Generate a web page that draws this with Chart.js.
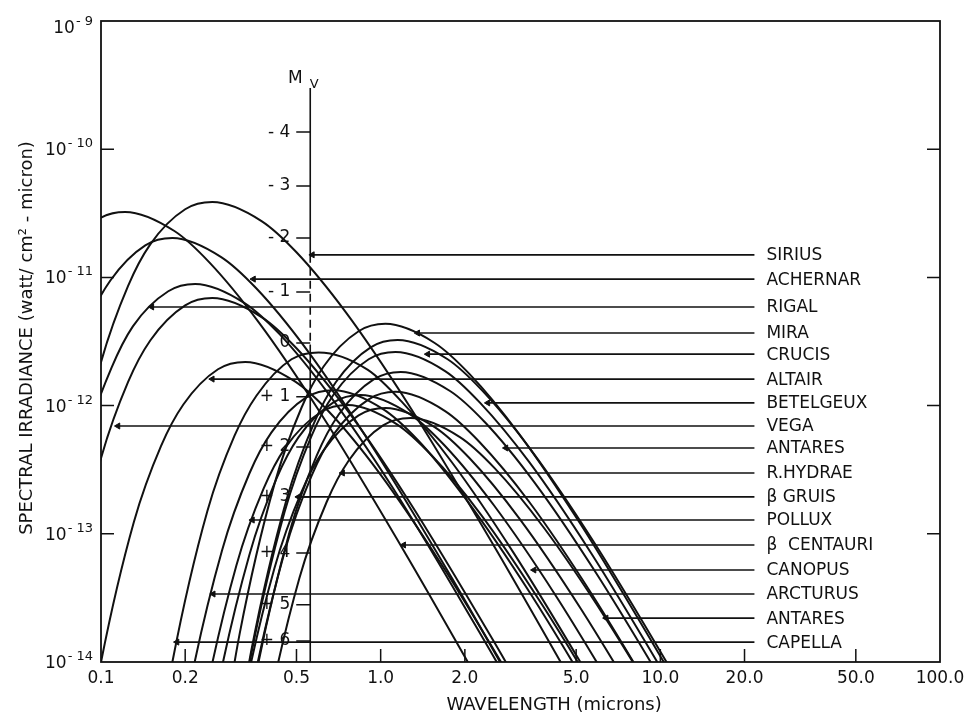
<!DOCTYPE html>
<html>
<head>
<meta charset="utf-8">
<script src="https://cdn.jsdelivr.net/npm/chart.js@4.4.1/dist/chart.umd.min.js"></script>
<style>
  html, body { margin: 0; padding: 0; background: #fff; }
  canvas { display: block; }
</style>
</head>
<body>
<canvas id="grafico" width="974" height="719"></canvas>
<script>
const tinta = '#111'
const fuente = '"DejaVu Sans", sans-serif'

// Ejes
const xTickValues = [0.1, 0.2, 0.5, 1, 2, 5, 10, 20, 50, 100]
const xTickLabels = ['0.1', '0.2', '0.5', '1.0', '2.0', '5.0', '10.0', '20.0', '50.0', '100.0']
const yTickValues = [1e-14, 1e-13, 1e-12, 1e-11, 1e-10, 1e-9]
const yTickExponents = [-14, -13, -12, -11, -10, -9]

// Escala de magnitud visual (M_V) sobre 0.5 micrones
const mvAxisWl = 0.56
const mvTop = 3.0e-10
const mvLabels = ['- 4', '- 3', '- 2', '- 1', '0', '+ 1', '+ 2', '+ 3', '+ 4', '+ 5', '+ 6']
const mvLevels = [1.36e-10, 5.16e-11, 2.03e-11, 7.69e-12, 3.08e-12, 1.17e-12, 4.75e-13, 1.94e-13, 7.08e-14, 2.79e-14, 1.46e-14]
const mvDashFrom = 1.5e-11
const mvDashTo = 3.0e-12

// Curvas (longitud de onda en micrones, irradiancia en watt/cm2-micron)
const siriusWl = [0.0625, 0.075, 0.1, 0.125, 0.15, 0.2, 0.25, 0.375, 0.5, 0.75, 1.25, 2.5, 5.0]
const siriusIrr = [1.34e-14, 1.47e-13, 2.18e-12, 8.59e-12, 1.81e-11, 3.40e-11, 3.87e-11, 2.75e-11, 1.57e-11, 5.36e-12, 1.04e-12, 8.57e-14, 6.14e-15]

const achernarWl = [0.0449, 0.0539, 0.0718, 0.0898, 0.108, 0.144, 0.180, 0.269, 0.359, 0.539, 0.898, 1.80, 3.59]
const achernarIrr = [7.03e-15, 7.71e-14, 1.14e-12, 4.50e-12, 9.46e-12, 1.78e-11, 2.03e-11, 1.44e-11, 8.22e-12, 2.81e-12, 5.46e-13, 4.49e-14, 3.21e-15]

const rigalWl = [0.0543, 0.0652, 0.0869, 0.109, 0.130, 0.174, 0.217, 0.326, 0.435, 0.652, 1.09, 2.17, 4.35]
const rigalIrr = [3.08e-15, 3.38e-14, 5.00e-13, 1.97e-12, 4.15e-12, 7.80e-12, 8.89e-12, 6.31e-12, 3.61e-12, 1.23e-12, 2.39e-13, 1.97e-14, 1.41e-15]

const miraWl = [0.261, 0.313, 0.417, 0.521, 0.625, 0.834, 1.04, 1.56, 2.08, 3.13, 5.21, 10.4, 20.8]
const miraIrr = [1.50e-15, 1.65e-14, 2.44e-13, 9.62e-13, 2.02e-12, 3.80e-12, 4.34e-12, 3.08e-12, 1.76e-12, 6.00e-13, 1.17e-13, 9.59e-15, 6.87e-16]

const crucisWl = [0.288, 0.345, 0.460, 0.576, 0.691, 0.921, 1.15, 1.73, 2.30, 3.45, 5.76, 11.5, 23.0]
const crucisIrr = [1.13e-15, 1.24e-14, 1.83e-13, 7.21e-13, 1.52e-12, 2.85e-12, 3.25e-12, 2.31e-12, 1.32e-12, 4.50e-13, 8.75e-14, 7.19e-15, 5.15e-16]

const altairWl = [0.082, 0.0984, 0.131, 0.164, 0.197, 0.262, 0.328, 0.492, 0.656, 0.984, 1.64, 3.28, 6.56]
const altairIrr = [7.59e-16, 8.32e-15, 1.23e-13, 4.85e-13, 1.02e-12, 1.92e-12, 2.19e-12, 1.55e-12, 8.87e-13, 3.03e-13, 5.89e-14, 4.84e-15, 3.47e-16]

const betelgeuxWl = [0.283, 0.340, 0.453, 0.566, 0.679, 0.906, 1.13, 1.70, 2.26, 3.40, 5.66, 11.3, 22.6]
const betelgeuxIrr = [9.08e-16, 9.95e-15, 1.47e-13, 5.81e-13, 1.22e-12, 2.30e-12, 2.62e-12, 1.86e-12, 1.06e-12, 3.62e-13, 7.05e-14, 5.79e-15, 4.15e-16]

const vegaWl = [0.0625, 0.075, 0.1, 0.125, 0.15, 0.2, 0.25, 0.375, 0.5, 0.75, 1.25, 2.5, 5.0]
const vegaIrr = [2.39e-15, 2.62e-14, 3.88e-13, 1.53e-12, 3.22e-12, 6.05e-12, 6.90e-12, 4.90e-12, 2.80e-12, 9.55e-13, 1.86e-13, 1.53e-14, 1.09e-15]

const antaresWl = [0.295, 0.354, 0.472, 0.590, 0.708, 0.944, 1.18, 1.77, 2.36, 3.54, 5.90, 11.8, 23.6]
const antaresIrr = [6.34e-16, 6.95e-15, 1.03e-13, 4.06e-13, 8.53e-13, 1.60e-12, 1.83e-12, 1.30e-12, 7.41e-13, 2.53e-13, 4.92e-14, 4.05e-15, 2.90e-16]

const rHydraeWl = [0.320, 0.384, 0.512, 0.641, 0.769, 1.02, 1.28, 1.92, 2.56, 3.84, 6.41, 12.8, 25.6]
const rHydraeIrr = [2.77e-16, 3.04e-15, 4.50e-14, 1.77e-13, 3.73e-13, 7.01e-13, 8.00e-13, 5.68e-13, 3.24e-13, 1.11e-13, 2.15e-14, 1.77e-15, 1.27e-16]

const betaGruisWl = [0.261, 0.313, 0.417, 0.521, 0.625, 0.834, 1.04, 1.56, 2.08, 3.13, 5.21, 10.4, 20.8]
const betaGruisIrr = [3.32e-16, 3.64e-15, 5.38e-14, 2.12e-13, 4.47e-13, 8.39e-13, 9.57e-13, 6.79e-13, 3.88e-13, 1.32e-13, 2.58e-14, 2.12e-15, 1.52e-16]

const polluxWl = [0.191, 0.229, 0.305, 0.381, 0.457, 0.610, 0.762, 1.14, 1.52, 2.29, 3.81, 7.62, 15.2]
const polluxIrr = [3.51e-16, 3.85e-15, 5.69e-14, 2.24e-13, 4.72e-13, 8.87e-13, 1.01e-12, 7.18e-13, 4.10e-13, 1.40e-13, 2.72e-14, 2.24e-15, 1.60e-16]

const betaCentauriWl = [0.0305, 0.0366, 0.0488, 0.061, 0.0732, 0.0976, 0.122, 0.183, 0.244, 0.366, 0.61, 1.22, 2.44]
const betaCentauriIrr = [1.12e-14, 1.23e-13, 1.82e-12, 7.18e-12, 1.51e-11, 2.84e-11, 3.24e-11, 2.30e-11, 1.31e-11, 4.48e-12, 8.71e-13, 7.16e-14, 5.13e-15]

const canopusWl = [0.212, 0.254, 0.339, 0.424, 0.508, 0.678, 0.847, 1.27, 1.69, 2.54, 4.24, 8.47, 16.9]
const canopusIrr = [4.20e-16, 4.60e-15, 6.81e-14, 2.69e-13, 5.65e-13, 1.06e-12, 1.21e-12, 8.59e-13, 4.91e-13, 1.67e-13, 3.26e-14, 2.68e-15, 1.92e-16]

const arcturusWl = [0.170, 0.203, 0.271, 0.339, 0.407, 0.542, 0.678, 1.02, 1.36, 2.03, 3.39, 6.78, 13.6]
const arcturusIrr = [4.59e-16, 5.04e-15, 7.45e-14, 2.94e-13, 6.18e-13, 1.16e-12, 1.32e-12, 9.40e-13, 5.37e-13, 1.83e-13, 3.56e-14, 2.93e-15, 2.10e-16]

const antaresBWl = [0.283, 0.340, 0.453, 0.566, 0.679, 0.906, 1.13, 1.70, 2.26, 3.40, 5.66, 11.3, 22.6]
const antaresBIrr = [4.43e-16, 4.85e-15, 7.18e-14, 2.83e-13, 5.96e-13, 1.12e-12, 1.28e-12, 9.06e-13, 5.18e-13, 1.77e-13, 3.44e-14, 2.82e-15, 2.02e-16]

const capellaWl = [0.150, 0.180, 0.240, 0.300, 0.360, 0.480, 0.600, 0.900, 1.20, 1.80, 3.00, 6.00, 12.0]
const capellaIrr = [9.1e-16, 1.0e-14, 1.5e-13, 5.8e-13, 1.2e-12, 2.3e-12, 2.6e-12, 1.9e-12, 1.05e-12, 3.6e-13, 7.0e-14, 5.8e-15, 4.2e-16]

// Etiquetas de la derecha, con la punta de la flecha sobre cada curva
const starNames = ['SIRIUS', 'ACHERNAR', 'RIGAL', 'MIRA', 'CRUCIS', 'ALTAIR', 'BETELGEUX', 'VEGA', 'ANTARES',
  'R.HYDRAE', 'β GRUIS', 'POLLUX', 'β  CENTAURI', 'CANOPUS', 'ARCTURUS', 'ANTARES', 'CAPELLA']
const arrowTipWl = [0.57, 0.351, 0.152, 1.357, 1.474, 0.250, 2.418, 0.115, 2.805, 0.731, 0.508, 0.348, 1.209, 3.535, 0.252, 6.40, 0.187]
const labelIrr = [1.50e-11, 9.7e-12, 5.88e-12, 3.68e-12, 2.52e-12, 1.61e-12, 1.05e-12, 6.93e-13, 4.67e-13,
  2.98e-13, 1.94e-13, 1.28e-13, 8.18e-14, 5.22e-14, 3.39e-14, 2.20e-14, 1.43e-14]
const labelEndWl = 21.7

const starCurves = [
  [siriusWl, siriusIrr], [achernarWl, achernarIrr], [rigalWl, rigalIrr], [miraWl, miraIrr],
  [crucisWl, crucisIrr], [altairWl, altairIrr], [betelgeuxWl, betelgeuxIrr], [vegaWl, vegaIrr],
  [antaresWl, antaresIrr], [rHydraeWl, rHydraeIrr], [betaGruisWl, betaGruisIrr], [polluxWl, polluxIrr],
  [betaCentauriWl, betaCentauriIrr], [canopusWl, canopusIrr], [arcturusWl, arcturusIrr],
  [antaresBWl, antaresBIrr], [capellaWl, capellaIrr]
]

const datasets = []

// Curvas de cada estrella
starCurves.forEach(([wl, irr]) => {
  datasets.push({
    data: wl.map((x, i) => ({ x: x, y: irr[i] })),
    borderColor: tinta,
    borderWidth: 2,
    pointRadius: 0,
    cubicInterpolationMode: 'monotone',
    fill: false
  })
})

// Lineas guia con flecha hacia la curva
starNames.forEach((name, i) => {
  datasets.push({
    data: [{ x: arrowTipWl[i], y: labelIrr[i] }, { x: labelEndWl, y: labelIrr[i] }],
    borderColor: tinta,
    borderWidth: 1.6,
    pointRadius: [3.5, 0],
    pointStyle: 'triangle',
    rotation: -90,
    pointBackgroundColor: tinta,
    pointBorderColor: tinta,
    pointBorderWidth: 1,
    fill: false
  })
})

// Eje M_V: tramo solido, tramo punteado y tramo solido
datasets.push({
  data: [{ x: mvAxisWl, y: mvTop }, { x: mvAxisWl, y: mvDashFrom }],
  borderColor: tinta, borderWidth: 1.6, pointRadius: 0
})
datasets.push({
  data: [{ x: mvAxisWl, y: mvDashFrom }, { x: mvAxisWl, y: mvDashTo }],
  borderColor: tinta, borderWidth: 1.6, pointRadius: 0, borderDash: [8, 5]
})
datasets.push({
  data: [{ x: mvAxisWl, y: mvDashTo }, { x: mvAxisWl, y: 1e-14 }],
  borderColor: tinta, borderWidth: 1.6, pointRadius: 0
})

// Dibujo del marco, marcas, etiquetas y titulos
const dibujoExtra = {
  id: 'dibujoExtra',
  beforeDraw(chart) {
    const ctx = chart.ctx
    ctx.save()
    ctx.fillStyle = '#fff'
    ctx.fillRect(0, 0, chart.width, chart.height)
    ctx.restore()
  },
  afterDatasetsDraw(chart) {
    const ctx = chart.ctx
    const area = chart.chartArea
    const xs = chart.scales.x
    const ys = chart.scales.y
    ctx.save()
    ctx.strokeStyle = tinta
    ctx.fillStyle = tinta
    ctx.lineWidth = 1.8
    ctx.strokeRect(area.left, area.top, area.right - area.left, area.bottom - area.top)

    ctx.lineWidth = 1.5
    ctx.beginPath()
    xTickValues.forEach(v => {
      const px = xs.getPixelForValue(v)
      if (px > area.left + 2 && px < area.right - 2) {
        ctx.moveTo(px, area.bottom)
        ctx.lineTo(px, area.bottom - 13)
      }
    })
    yTickValues.forEach(v => {
      const py = ys.getPixelForValue(v)
      if (py > area.top + 2 && py < area.bottom - 2) {
        ctx.moveTo(area.left, py)
        ctx.lineTo(area.left + 13, py)
        ctx.moveTo(area.right, py)
        ctx.lineTo(area.right - 13, py)
      }
    })
    ctx.stroke()

    // Etiquetas del eje y con exponente
    ctx.textAlign = 'right'
    ctx.textBaseline = 'alphabetic'
    yTickValues.forEach((v, i) => {
      const py = ys.getPixelForValue(v)
      const base = Math.max(py + 6, area.top + 12)
      const exp = '- ' + Math.abs(yTickExponents[i])
      const right = area.left - 8
      ctx.font = '13px ' + fuente
      ctx.fillText(exp, right, base - 8)
      const w = ctx.measureText(exp).width
      ctx.font = '17px ' + fuente
      ctx.fillText('10', right - w - 1, base)
    })

    // Escala M_V
    const mx = xs.getPixelForValue(mvAxisWl)
    ctx.beginPath()
    mvLevels.forEach(v => {
      const py = ys.getPixelForValue(v)
      ctx.moveTo(mx - 14, py)
      ctx.lineTo(mx, py)
    })
    ctx.stroke()
    ctx.font = '17px ' + fuente
    ctx.textBaseline = 'middle'
    ctx.textAlign = 'right'
    mvLabels.forEach((t, i) => {
      const py = ys.getPixelForValue(mvLevels[i])
      ctx.fillText(t, mx - 20, py)
    })
    const topPy = ys.getPixelForValue(mvTop)
    ctx.textAlign = 'center'
    ctx.textBaseline = 'alphabetic'
    ctx.font = '17px ' + fuente
    ctx.fillText('M', mx - 15, topPy - 5)
    ctx.font = '13px ' + fuente
    ctx.fillText('V', mx + 4, topPy)

    // Nombres de las estrellas
    ctx.font = '17px ' + fuente
    ctx.textAlign = 'left'
    ctx.textBaseline = 'middle'
    const lx = xs.getPixelForValue(labelEndWl) + 12
    starNames.forEach((name, i) => {
      ctx.fillText(name, lx, ys.getPixelForValue(labelIrr[i]) + 1)
    })

    // Titulos de los ejes
    ctx.font = '18px ' + fuente
    ctx.textAlign = 'center'
    ctx.textBaseline = 'middle'
    ctx.fillText('WAVELENGTH (microns)', area.left + (area.right - area.left) * 0.54, 705)
    ctx.translate(27, 338)
    ctx.rotate(-Math.PI / 2)
    ctx.fillText('SPECTRAL IRRADIANCE (watt/ cm² - micron)', 0, 0)
    ctx.restore()
  }
}

new Chart(document.getElementById('grafico'), {
  type: 'line',
  data: { datasets: datasets },
  options: {
    responsive: false,
    animation: false,
    devicePixelRatio: 1,
    layout: { padding: { left: 101, right: 34, top: 21, bottom: 0 } },
    plugins: { legend: { display: false }, tooltip: { enabled: false } },
    scales: {
      x: {
        type: 'logarithmic',
        min: 0.1,
        max: 100,
        grid: { display: false, drawTicks: false },
        border: { display: false },
        afterBuildTicks: s => { s.ticks = xTickValues.map(v => ({ value: v })) },
        afterFit: s => { s.height = 57 },
        ticks: {
          autoSkip: false,
          maxRotation: 0,
          padding: 6,
          color: tinta,
          font: { family: fuente, size: 17 },
          callback: (v, i) => xTickLabels[i]
        }
      },
      y: {
        type: 'logarithmic',
        min: 1e-14,
        max: 1e-9,
        display: false
      }
    }
  },
  plugins: [dibujoExtra]
})
</script>
</body>
</html>
